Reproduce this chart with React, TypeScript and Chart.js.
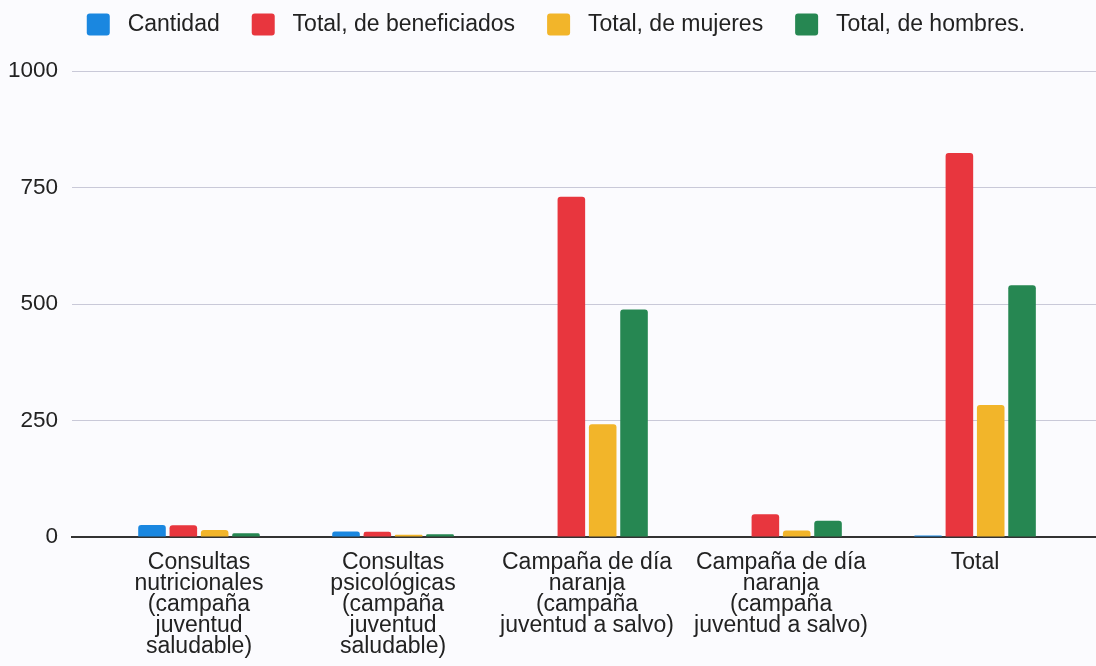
import React, { useEffect, useRef } from "react";
import { Chart, registerables } from "chart.js";

Chart.register(...registerables);

const categories: (string | string[])[] = [
  ["Consultas", "nutricionales", "(campaña", "juventud", "saludable)"],
  ["Consultas", "psicológicas", "(campaña", "juventud", "saludable)"],
  ["Campaña de día", "naranja", "(campaña", "juventud a salvo)"],
  ["Campaña de día", "naranja", "(campaña", "juventud a salvo)"],
  "Total",
];

const seriesNames = [
  "Cantidad",
  "Total, de beneficiados",
  "Total, de mujeres",
  "Total, de hombres.",
];

const cantidad = [26, 12, 0, 0, 3];
const beneficiados = [25, 11, 730, 49, 824];
const mujeres = [15, 5, 242, 14, 283];
const hombres = [8, 6, 488, 35, 540];

const yTicks = [0, 250, 500, 750, 1000];

const colors = ["#1A87E0", "#E8363E", "#F2B52A", "#268752"];

const FONT = "'Liberation Sans', Arial, sans-serif";

export default function App() {
  const ref = useRef<HTMLCanvasElement | null>(null);

  useEffect(() => {
    if (!ref.current) return;
    const values = [cantidad, beneficiados, mujeres, hombres];

    const legendMargin = {
      id: "legendMargin",
      beforeInit(chart: any) {
        const lg = chart.legend;
        if (!lg) return;
        const fit = lg.fit;
        lg.fit = function () {
          fit.call(this);
          this.height += 25;
        };
        const draw = lg.draw;
        lg.draw = function () {
          const ctx = this.ctx;
          ctx.save();
          ctx.translate(8, 0);
          draw.call(this);
          ctx.restore();
        };
      },
    };

    const chart = new Chart(ref.current, {
      type: "bar",
      data: {
        labels: categories as any,
        datasets: seriesNames.map((name, i) => ({
          label: name,
          data: values[i],
          backgroundColor: colors[i],
          borderWidth: 0,
          borderRadius: 3,
          categoryPercentage: 0.646,
          barPercentage: 0.88,
        })),
      },
      options: {
        animation: false,
        responsive: true,
        maintainAspectRatio: false,
        layout: { padding: { top: -19, left: 0, right: 0, bottom: 0 } },
        plugins: {
          tooltip: { enabled: false },
          legend: {
            position: "top",
            align: "center",
            labels: {
              color: "#222",
              font: { family: FONT, size: 23 },
              boxWidth: 23,
              boxHeight: 22,
              padding: 32,
              useBorderRadius: true,
              borderRadius: 3,
              generateLabels(chart: any) {
                const items = Chart.defaults.plugins.legend.labels.generateLabels(chart);
                return items.map((it: any) => ({ ...it, text: " " + it.text, lineWidth: 0 }));
              },
            },
          },
        },
        scales: {
          x: {
            offset: true,
            grid: { display: false, drawTicks: false },
            border: { display: true, color: "#333", width: 2 },
            ticks: {
              color: "#222",
              font: { family: FONT, size: 23, lineHeight: "21px" },
              padding: 15,
              maxRotation: 0,
              autoSkip: false,
            },
            afterBuildTicks(scale: any) {
              // widen the category range so the plot spans past the outer groups
              scale._startValue = -0.6546;
              scale._valueRange = 5.278;
            },
            afterFit(scale: any) {
              scale.height = 129;
            },
          },
          y: {
            min: 0,
            max: 1000,
            afterBuildTicks(scale: any) {
              scale.ticks = yTicks.map((v) => ({ value: v }));
            },
            grid: { color: "#C9C9D8", lineWidth: 1, drawTicks: false },
            border: { display: false },
            ticks: {
              color: "#222",
              font: { family: FONT, size: 22.5 },
              padding: 14,
              callback: (v: any) => String(v),
            },
            afterFit(scale: any) {
              scale.width = 72;
            },
          },
        },
      },
      plugins: [legendMargin],
    });

    return () => chart.destroy();
  }, []);

  return (
    <div
      style={{
        position: "absolute",
        left: 0,
        top: 0,
        width: 1096,
        height: 666,
        background: "#FBFBFE",
      }}
    >
      <canvas ref={ref} />
    </div>
  );
}
